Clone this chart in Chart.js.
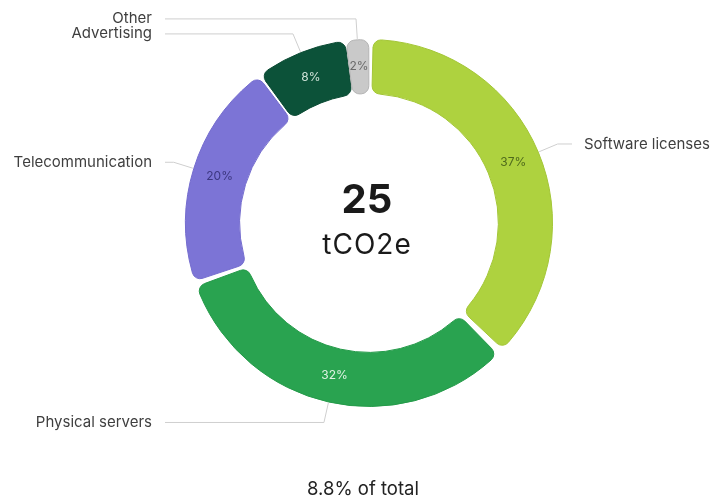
<!DOCTYPE html>
<html>
<head>
<meta charset="utf-8">
<script src="https://cdn.jsdelivr.net/npm/chart.js@4"></script>
<style>
  html, body { margin: 0; padding: 0; background: #fff; }
  canvas { display: block; }
</style>
</head>
<body>
<canvas id="emissionsChart" width="716" height="499"></canvas>
<script>
const categories = ['Software licenses', 'Physical servers', 'Telecommunication', 'Advertising', 'Other'];
const shares = [37, 32, 20, 8, 2];
const sliceColors = ['#aed23f', '#29a350', '#7c74d6', '#0c5239', '#c9c9c9'];
const sliceBorders = ['#a3c636', '#249a49', '#746cce', '#0a4a33', '#b4b4b4'];
const valueColors = ['#4f6a1c', '#dff2e3', '#3c3780', '#cfe3d8', '#6a6a6a'];
const centerValue = '25';
const centerUnit = 'tCO2e';
const footerText = '8.8% of total';

const FONT = 'Inter, "Noto Sans", sans-serif';

const calloutPlugin = {
    id: 'callouts',
    afterDatasetsDraw(chart) {
        const ctx = chart.ctx;
        const area = chart.chartArea;
        const meta = chart.getDatasetMeta(0);
        const leftX = area.left - 33;
        const rightX = area.right + 31;

        const items = meta.data.map(function (arc, i) {
            const p = arc.getProps(['x', 'y', 'startAngle', 'endAngle', 'outerRadius'], true);
            const mid = (p.startAngle + p.endAngle) / 2;
            const r1 = p.outerRadius + 4;
            const r2 = p.outerRadius + 24;
            return {
                i: i,
                x1: p.x + Math.cos(mid) * r1,
                y1: p.y + Math.sin(mid) * r1,
                x2: p.x + Math.cos(mid) * r2,
                y2: p.y + Math.sin(mid) * r2,
                right: Math.cos(mid) >= 0
            };
        });

        // keep labels on the same side apart
        [true, false].forEach(function (side) {
            const group = items.filter(it => it.right === side).sort((a, b) => a.y2 - b.y2);
            for (let k = 1; k < group.length; k++) {
                if (group[k].y2 - group[k - 1].y2 < 15) group[k].y2 = group[k - 1].y2 + 15;
            }
        });

        ctx.save();
        ctx.strokeStyle = '#cfcfcf';
        ctx.lineWidth = 1;
        ctx.font = '15px ' + FONT;
        ctx.fillStyle = '#3f3f3f';
        ctx.textBaseline = 'middle';
        items.forEach(function (it) {
            const endX = it.right ? rightX - 12 : leftX + 13;
            ctx.beginPath();
            ctx.moveTo(it.x1, it.y1);
            ctx.lineTo(it.x2, it.y2);
            ctx.lineTo(endX, it.y2);
            ctx.stroke();
            ctx.textAlign = it.right ? 'left' : 'right';
            ctx.fillText(categories[it.i], it.right ? rightX : leftX, it.y2);
        });

        // percentages inside the slices
        ctx.font = '12px ' + FONT;
        ctx.textAlign = 'center';
        meta.data.forEach(function (arc, i) {
            const pos = arc.tooltipPosition(true);
            ctx.fillStyle = valueColors[i];
            ctx.fillText(shares[i] + '%', pos.x, pos.y);
        });

        // centre and footer text
        const cx = meta.data[0].x;
        const cy = meta.data[0].y;
        ctx.fillStyle = '#1a1a1a';
        ctx.font = 'bold 40px ' + FONT;
        ctx.fillText(centerValue, cx - 2, cy - 22);
        ctx.font = '28px ' + FONT;
        ctx.letterSpacing = '1px';
        ctx.fillText(centerUnit, cx - 2, cy + 23);
        ctx.letterSpacing = '0px';
        ctx.fillStyle = '#222';
        ctx.font = '18.5px ' + FONT;
        ctx.fillText(footerText, cx - 6, chart.height - 10);
        ctx.restore();
    }
};

new Chart(document.getElementById('emissionsChart'), {
    type: 'doughnut',
    data: {
        labels: categories,
        datasets: [{
            data: shares,
            backgroundColor: sliceColors,
            borderColor: sliceBorders,
            borderWidth: 1,
            borderRadius: 8,
            spacing: 6
        }]
    },
    options: {
        responsive: false,
        animation: false,
        cutout: '70%',
        layout: {
            padding: { left: 185, right: 163, top: 39, bottom: 92 }
        },
        plugins: {
            legend: { display: false },
            tooltip: { enabled: false }
        }
    },
    plugins: [calloutPlugin]
});
</script>
</body>
</html>
